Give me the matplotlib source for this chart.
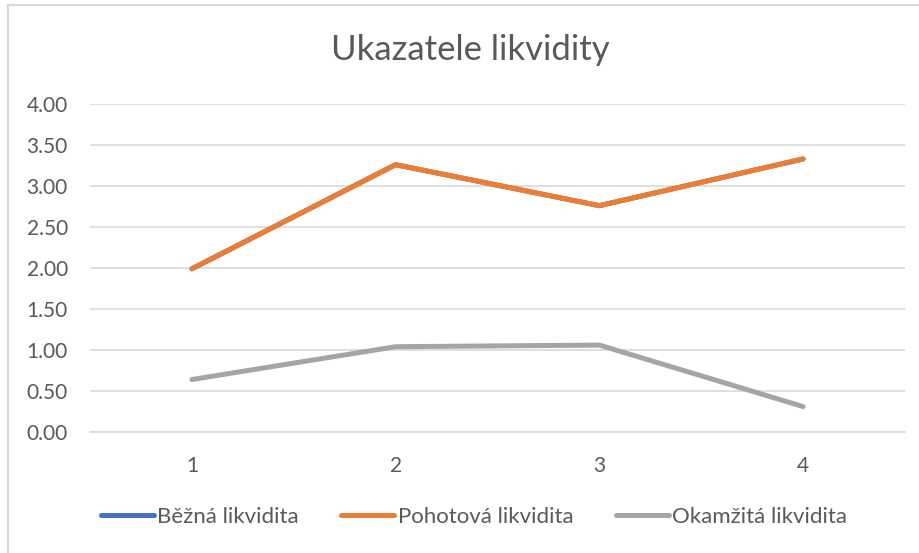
import matplotlib.pyplot as plt
from matplotlib.lines import Line2D

plt.rcParams['font.family'] = ['Lato', 'DejaVu Sans']

categories = [1, 2, 3, 4]
bezna = [1.99, 3.26, 2.76, 3.33]
pohotova = [1.99, 3.26, 2.76, 3.33]
okamzita = [0.64, 1.04, 1.06, 0.31]
yticks = [0, 0.5, 1.0, 1.5, 2.0, 2.5, 3.0, 3.5, 4.0]

text_col = '#595959'
grid_col = '#d9d9d9'

fig = plt.figure(figsize=(9.2, 5.53), dpi=100)
ax = fig.add_axes([90 / 920, 1 - 432 / 553, 815 / 920, 328 / 553])

ax.plot(categories, bezna, color='#4472c4', lw=3.6, solid_capstyle='round', label='Běžná likvidita')
ax.plot(categories, pohotova, color='#ed7d31', lw=3.6, solid_capstyle='round', label='Pohotová likvidita')
ax.plot(categories, okamzita, color='#a5a5a5', lw=3.6, solid_capstyle='round', label='Okamžitá likvidita')

ax.set_xlim(0.5, 4.5)
ax.set_ylim(0, 4)
ax.set_xticks(categories)
ax.set_yticks(yticks)
ax.set_yticklabels([f'{v:.2f}' for v in yticks])
ax.grid(axis='y', color=grid_col, lw=1.2)
ax.set_axisbelow(True)
for s in ['top', 'right', 'left']:
    ax.spines[s].set_visible(False)
ax.spines['bottom'].set_color(grid_col)
ax.spines['bottom'].set_linewidth(1.2)
ax.tick_params(axis='both', length=0, labelsize=15, colors=text_col)
ax.tick_params(axis='x', pad=17)
ax.tick_params(axis='y', pad=16)

fig.text(470 / 920, 1 - 50 / 553, 'Ukazatele likvidity', ha='center', va='center',
         fontsize=25, color=text_col)

leg = fig.legend(loc='center', bbox_to_anchor=(474 / 920, 1 - 517 / 553), ncol=3,
                 frameon=False, fontsize=16, handlelength=2.4, handletextpad=0.15,
                 columnspacing=1.9, labelcolor=text_col)

# chart area border (top and left edges visible)
fig.add_artist(Line2D([8 / 920, 1], [1 - 5 / 553, 1 - 5 / 553], color=grid_col, lw=1.5))
fig.add_artist(Line2D([8 / 920, 8 / 920], [0, 1 - 5 / 553], color=grid_col, lw=1.5))

fig.savefig('out.png', dpi=100)
